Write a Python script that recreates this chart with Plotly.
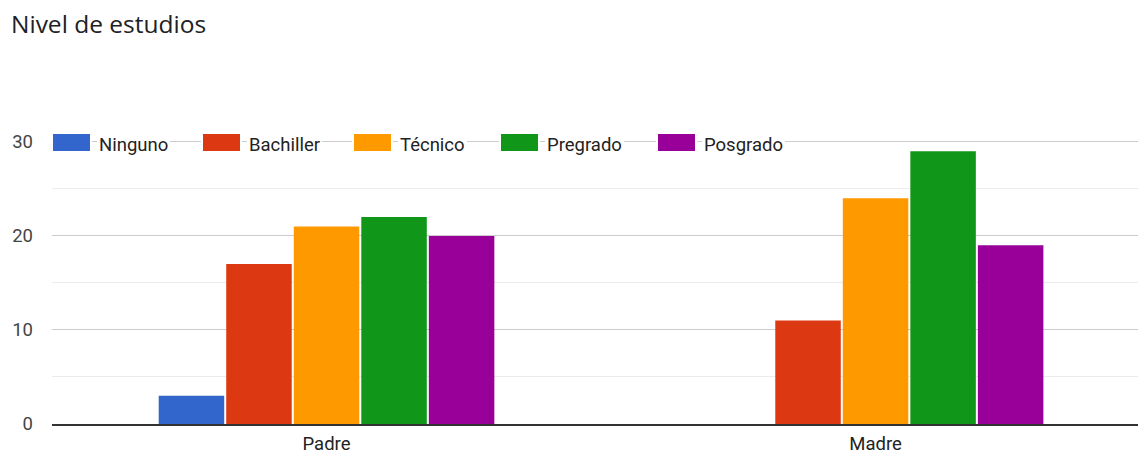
import plotly.graph_objects as go

# ---- data ----
categories = ["Padre", "Madre"]
series_names = ["Ninguno", "Bachiller", "Técnico", "Pregrado", "Posgrado"]
ninguno = [3, 0]
bachiller = [17, 11]
tecnico = [21, 24]
pregrado = [22, 29]
posgrado = [20, 19]
y_tick_values = [0, 10, 20, 30]
y_tick_labels = ["0", "10", "20", "30"]
chart_title = "Nivel de estudios"

# ---- styling ----
colors = ["#3366cc", "#dc3912", "#ff9900", "#109618", "#990099"]
W, H = 1138, 454
ML, MR, MT, MB = 52, 0, 139, 30
PW, PH = W - ML - MR, H - MT - MB
FONT = "Roboto, Arial, sans-serif"

def px_x(px):
    return (px - ML) / PW

def px_y(py):
    return (H - MB - py) / PH

# legend placement (pixels)
legend_swatch_left = [53, 203, 354, 501, 658]
swatch_w, swatch_top, swatch_bottom = 37, 134, 151
legend_text_gap = 9
legend_text_center_y = 144.5

fig = go.Figure()
series_values = [ninguno, bachiller, tecnico, pregrado, posgrado]
for name, vals, col in zip(series_names, series_values, colors):
    fig.add_trace(go.Bar(name=name, x=categories, y=vals, marker_color=col,
                         marker_line_width=0, showlegend=False))

shapes = []
annotations = []
for i, name in enumerate(series_names):
    x0 = legend_swatch_left[i]
    shapes.append(dict(type="rect", xref="paper", yref="paper", layer="above",
                       x0=px_x(x0 - 1), x1=px_x(x0 + swatch_w + 1),
                       y0=px_y(swatch_bottom + 1), y1=px_y(swatch_top - 1),
                       fillcolor=colors[i], line=dict(color="white", width=2)))
    annotations.append(dict(xref="paper", yref="paper", x=px_x(x0 + swatch_w + legend_text_gap - 2),
                            y=px_y(legend_text_center_y), xanchor="left", yanchor="middle",
                            text=name, showarrow=False, bgcolor="white", borderpad=2, borderwidth=0,
                            font=dict(family=FONT, size=18.5, color="#222222")))

annotations.append(dict(xref="paper", yref="paper", x=px_x(9), y=px_y(23.5),
                        xanchor="left", yanchor="middle", text=chart_title, showarrow=False,
                        font=dict(family="Open Sans, Roboto, sans-serif", size=24.5, color="#202124")))

fig.update_layout(
    width=W, height=H,
    margin=dict(l=ML, r=MR, t=MT, b=MB, pad=0, autoexpand=False),
    paper_bgcolor="white", plot_bgcolor="white",
    barmode="group", bargap=0.385, bargroupgap=0.03,
    shapes=shapes, annotations=annotations,
    font=dict(family=FONT, size=18.5, color="#444444"),
    xaxis=dict(range=[-0.5, 1.478], showgrid=False, showline=True, linecolor="#333333",
               linewidth=1.5, ticks="", tickfont=dict(family=FONT, size=18.5, color="#222222"),
               ticklabelstandoff=2, automargin=False),
    yaxis=dict(range=[0, 30.3], tickvals=y_tick_values, ticktext=y_tick_labels,
               showgrid=True, gridcolor="#cccccc", gridwidth=1, zeroline=False,
               ticks="", ticklabelstandoff=18, automargin=False,
               tickfont=dict(family=FONT, size=18.5, color="#444444"),
               minor=dict(dtick=5, tick0=0, showgrid=True, gridcolor="#ebebeb", gridwidth=1, ticks="")),
)

fig.write_html("out.html", config={"displayModeBar": False},
               post_script="document.body.style.margin='0';document.body.style.overflow='hidden';")
